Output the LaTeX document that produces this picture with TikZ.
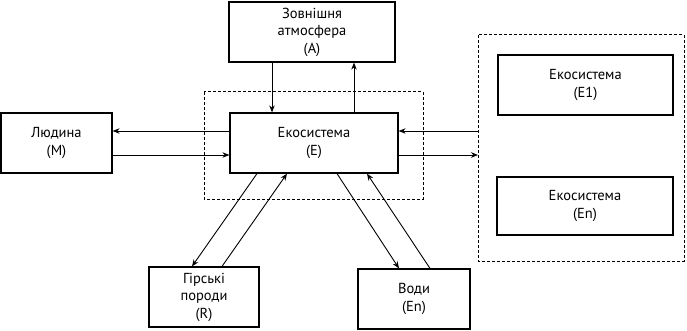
\documentclass[tikz,border=0pt]{standalone}
\usepackage{fontspec}
\setmainfont{PT Sans}
\usetikzlibrary{arrows.meta,calc}
\begin{document}
\begin{tikzpicture}[x=1pt,y=-1pt,
  box/.style={draw,line width=1.2pt,inner sep=0pt,align=center,font=\fontsize{14.5}{17.5}\selectfont},
  dbox/.style={draw,line width=1pt,dash pattern=on 3pt off 2pt},
  arr/.style={line width=0.9pt,-{Stealth[length=7pt,width=5.5pt]}}]
\useasboundingbox (0,0) rectangle (687,331);
% dashed frames
\draw[dbox] (204,92) rectangle (423,199);
\draw[dbox] (478,35) rectangle (684,261);
\coordinate (outer) at (478,143);
% boxes
\node[box,minimum width=166pt,minimum height=60pt] (A) at (312,32) {Зовнішня\\атмосфера\\(A)};
\node[box,minimum width=168pt,minimum height=60pt] (E) at (314,143) {Екосистема\\(E)};
\node[box,minimum width=111pt,minimum height=60pt] (M) at (56.5,143) {Людина\\(M)};
\node[box,minimum width=175pt,minimum height=60pt] (E1) at (585.5,85) {Екосистема\\(E1)};
\node[box,minimum width=176pt,minimum height=58pt] (En) at (585,206) {Екосистема\\(En)};
\node[box,minimum width=110pt,minimum height=60pt] (R) at (204,297) {Гірські\\породи\\(R)};
\node[box,minimum width=112pt,minimum height=60pt] (W) at (414,299) {Води\\(En)};
% connectors
\draw[arr] (A.south -| 272,0) -- (E.north -| 272,0);
\draw[arr] (E.north -| 354,0) -- (A.south -| 354,0);
\draw[arr] (E.west |- 0,131) -- (M.east |- 0,131);
\draw[arr] (M.east |- 0,155) -- (E.west |- 0,155);
\draw[arr] (outer |- 0,131) -- (E.east |- 0,131);
\draw[arr] (E.east |- 0,155) -- (outer |- 0,155);
\draw[arr] (E.south -| 257,0) -- (R.north -| 192,0);
\draw[arr] (R.north -| 222,0) -- (E.south -| 287,0);
\draw[arr] (E.south -| 337,0) -- (W.north -| 399,0);
\draw[arr] (W.north -| 430,0) -- (E.south -| 367,0);
\end{tikzpicture}
\end{document}
